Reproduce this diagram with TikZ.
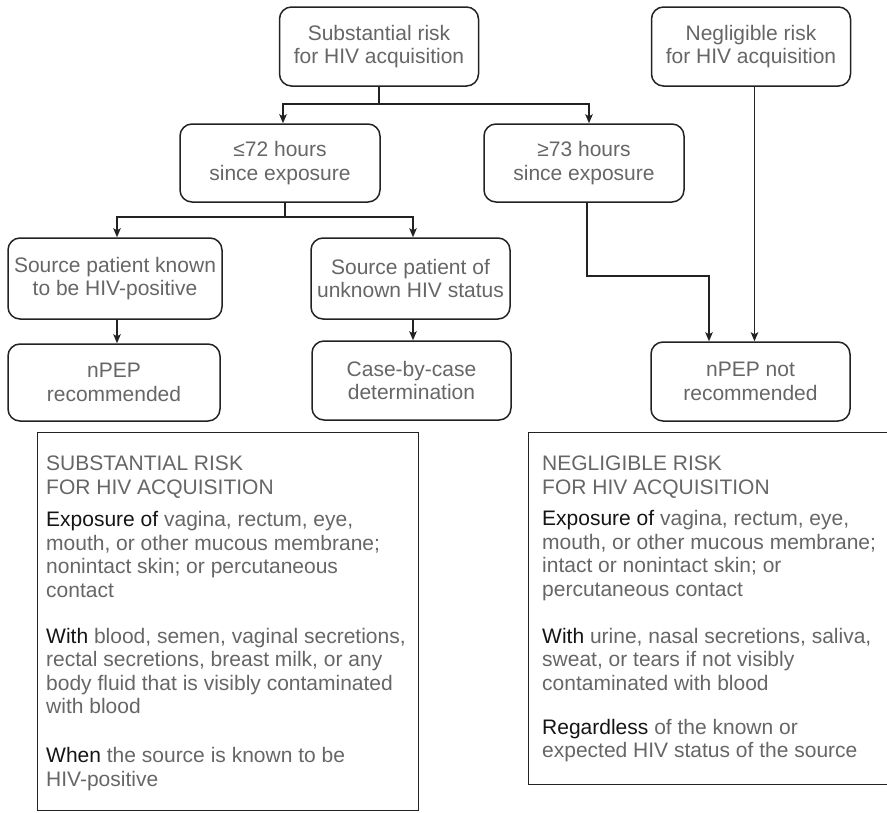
\documentclass[tikz,border=0pt]{standalone}
\usepackage{fontspec}
\setmainfont{Liberation Sans}
\usetikzlibrary{arrows.meta}
\definecolor{txt}{HTML}{666666}
\definecolor{ink}{HTML}{141414}
\definecolor{edge}{HTML}{222222}

\begin{document}
\begin{tikzpicture}[x=1pt,y=-1pt,
  every node/.style={font=\fontsize{21}{23.5}\selectfont},
  flow/.style={draw=edge, line width=1.5pt, rounded corners=12pt, align=center,
    text=txt, inner sep=0pt, minimum width=199pt, minimum height=79pt},
  panel/.style={draw=edge, line width=1.3pt, inner sep=0pt},
  paneltext/.style={anchor=north west, align=left, text=txt, inner sep=0pt},
  conn/.style={draw=edge, line width=1.4pt},
  arr/.style={conn, -{Stealth[length=9pt,width=7.5pt,inset=2pt]}}]
\useasboundingbox (0,0) rectangle (887,812);

% decision nodes
\node[flow] (top)     at (379,46.5)  {Substantial risk\\for HIV acquisition};
\node[flow] (negl)    at (751,46.5)  {Negligible risk\\for HIV acquisition};
\node[flow, minimum width=200pt, minimum height=78pt] (le72) at (280,163) {≤72 hours\\since exposure};
\node[flow, minimum width=200pt, minimum height=78pt] (ge73) at (584,163) {≥73 hours\\since exposure};
\node[flow, minimum width=214pt, minimum height=81pt] (known)   at (115,278.5)  {Source patient known\\to be HIV-positive};
\node[flow, minimum height=81pt] (unknown) at (410.5,278.5) {Source patient of\\unknown HIV status};
\node[flow, minimum width=212pt, minimum height=77pt] (npep) at (114,382.5) {nPEP\\recommended};
\node[flow] (cbc)  at (411.5,380.5) {Case-by-case\\determination};
\node[flow] (nnot) at (750.5,381.5) {nPEP not\\recommended};

% connectors
\coordinate (j1) at (379,104);
\draw[conn] (top.south) -- (j1);
\draw[arr] (j1) -| ([xshift=3pt]le72.north);
\draw[arr] (j1) -| ([xshift=5pt]ge73.north);

\coordinate (j2) at (285,217);
\draw[conn] (j2 |- le72.south) -- (j2);
\draw[arr] (j2) -| ([xshift=2pt]known.north);
\draw[arr] (j2) -| ([xshift=2.5pt]unknown.north);

\draw[arr] ([xshift=2pt]known.south) -- ([xshift=2pt]known.south |- npep.north);
\draw[arr] ([xshift=2.5pt]unknown.south) -- ([xshift=2.5pt]unknown.south |- cbc.north);

\coordinate (j3) at (709,276);
\draw[arr] ([xshift=3pt]ge73.south) |- (j3) -- (j3 |- nnot.north);
\draw[arr] ([xshift=3.5pt]negl.south) -- ([xshift=3.5pt]negl.south |- nnot.north);

% definition panels
\node[panel, anchor=north west, minimum width=381pt, minimum height=378pt] (subspanel) at (37,432) {};
\node[panel, anchor=north west, minimum width=380pt, minimum height=352pt] (neglpanel) at (528,432) {};

\node[paneltext] (substext) at (46,456) {%
SUBSTANTIAL RISK\\
FOR HIV ACQUISITION\\[9pt]
\textcolor{ink}{Exposure of} vagina, rectum, eye,\\
mouth, or other mucous membrane;\\
nonintact skin; or percutaneous\\
contact\\[22.5pt]
\textcolor{ink}{With} blood, semen, vaginal secretions,\\
rectal secretions, breast milk, or any\\
body fluid that is visibly contaminated\\
with blood\\[25.5pt]
\textcolor{ink}{When} the source is known to be\\
HIV-positive};

\node[paneltext] (negltext) at (542,456) {%
NEGLIGIBLE RISK\\
FOR HIV ACQUISITION\\[8pt]
\textcolor{ink}{Exposure of} vagina, rectum, eye,\\
mouth, or other mucous membrane;\\
intact or nonintact skin; or\\
percutaneous contact\\[23.5pt]
\textcolor{ink}{With} urine, nasal secretions, saliva,\\
sweat, or tears if not visibly\\
contaminated with blood\\[20.5pt]
\textcolor{ink}{Regardless} of the known or\\
expected HIV status of the source};
\end{tikzpicture}
\end{document}
